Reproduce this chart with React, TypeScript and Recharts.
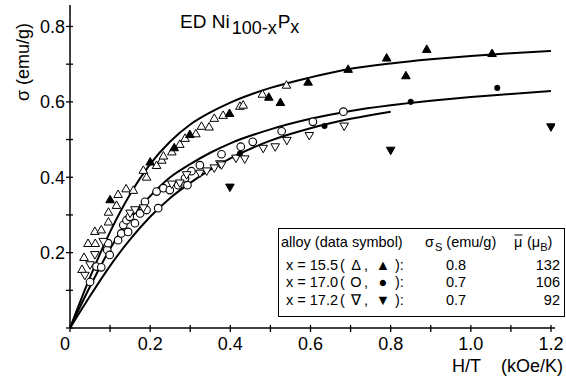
import React from 'react';
import { ComposedChart, Line, Scatter, XAxis, YAxis } from 'recharts';

// ---- axis ticks ----
const xTicks = [0, 0.1, 0.2, 0.3, 0.4, 0.5, 0.6, 0.7, 0.8, 0.9, 1.0, 1.1, 1.2];
const xLabelValues = [0, 0.2, 0.4, 0.6, 0.8, 1.0, 1.2];
const xLabelTexts = ['0', '0.2', '0.4', '0.6', '0.8', '1.0', '1.2'];
const yTicks = [0, 0.1, 0.2, 0.3, 0.4, 0.5, 0.6, 0.7, 0.8];
const yLabelValues = [0.2, 0.4, 0.6, 0.8];
const yLabelTexts = ['0.2', '0.4', '0.6', '0.8'];

// ---- fitted curves ----
const curveH = [0, 0.05, 0.1, 0.15, 0.2, 0.25, 0.3, 0.35, 0.4, 0.5, 0.6, 0.7, 0.8, 0.9, 1.0, 1.1, 1.2];
const curve155 = [0, 0.135, 0.255, 0.355, 0.435, 0.495, 0.54, 0.572, 0.598, 0.637, 0.665, 0.688, 0.702, 0.713, 0.722, 0.729, 0.735];
const curve170 = [0, 0.11, 0.21, 0.29, 0.35, 0.4, 0.435, 0.465, 0.49, 0.527, 0.555, 0.576, 0.591, 0.603, 0.613, 0.621, 0.629];
const curve172 = [0, 0.085, 0.165, 0.235, 0.295, 0.345, 0.385, 0.42, 0.45, 0.497, 0.53, 0.555, 0.574];

// ---- data points [H/T, sigma] ----
const open155: number[][] = [
  [0.03, 0.156], [0.035, 0.188], [0.045, 0.225], [0.063, 0.225], [0.062, 0.257], [0.078, 0.261],
  [0.096, 0.282], [0.096, 0.308], [0.116, 0.326], [0.12, 0.355], [0.14, 0.37], [0.158, 0.366],
  [0.183, 0.419], [0.191, 0.401], [0.216, 0.432], [0.229, 0.446], [0.233, 0.457], [0.254, 0.468],
  [0.274, 0.488], [0.287, 0.504], [0.314, 0.516], [0.328, 0.536], [0.347, 0.534], [0.36, 0.557],
  [0.382, 0.565], [0.424, 0.589], [0.432, 0.592], [0.48, 0.621], [0.54, 0.645],
];
const filled155: number[][] = [
  [0.1, 0.341], [0.2, 0.441], [0.26, 0.479], [0.299, 0.514], [0.398, 0.57], [0.496, 0.613],
  [0.525, 0.599], [0.594, 0.653], [0.694, 0.687], [0.79, 0.717], [0.838, 0.67], [0.89, 0.74], [1.053, 0.729],
];
const open170: number[][] = [
  [0.05, 0.122], [0.066, 0.163], [0.078, 0.161], [0.093, 0.207], [0.095, 0.225], [0.099, 0.194],
  [0.12, 0.233], [0.128, 0.251], [0.133, 0.273], [0.141, 0.286], [0.145, 0.255], [0.149, 0.295],
  [0.162, 0.278], [0.175, 0.304], [0.187, 0.335], [0.191, 0.313], [0.216, 0.362], [0.22, 0.318],
  [0.233, 0.371], [0.249, 0.366], [0.27, 0.379], [0.287, 0.397], [0.293, 0.379], [0.303, 0.416],
  [0.324, 0.432], [0.378, 0.461], [0.426, 0.481], [0.456, 0.494], [0.528, 0.522], [0.606, 0.547], [0.682, 0.574],
];
const filled170: number[][] = [[0.424, 0.463], [0.635, 0.536], [0.85, 0.6], [1.066, 0.637]];
const open172: number[][] = [
  [0.037, 0.139], [0.05, 0.167], [0.062, 0.194], [0.083, 0.229], [0.15, 0.304], [0.162, 0.313],
  [0.183, 0.318], [0.254, 0.381], [0.274, 0.384], [0.291, 0.406], [0.324, 0.41], [0.341, 0.416],
  [0.36, 0.424], [0.374, 0.435], [0.378, 0.432], [0.414, 0.45], [0.436, 0.448], [0.482, 0.476],
  [0.512, 0.48], [0.541, 0.497], [0.597, 0.51], [0.684, 0.535],
];
const filled172: number[][] = [[0.399, 0.373], [0.8, 0.471], [1.2, 0.533]];

// ---- legend table ----
const legendHeader = ['alloy (data symbol)', 'σ', '(emu/g)', 'μ', '(μ', ')'];
const legendAlloys = ['x = 15.5', 'x = 17.0', 'x = 17.2'];
const legendOpenSym = ['Δ', 'O', '∇'];
const legendFilledSym = ['▲', '●', '▼'];
const legendSigmaS = ['0.8', '0.7', '0.7'];
const legendMu = ['132', '106', '92'];

const toPts = (arr: number[][]) => arr.map(([h, s]) => ({ h, s }));
const toCurve = (vals: number[]) => vals.map((s, i) => ({ h: curveH[i], s }));

const W = 566;
const H = 379;
const AXIS_X = 70;
const AXIS_Y = 328;
const FONT = '"Liberation Sans", Arial, sans-serif';

const triUp = (fill: string) => (p: any) => {
  const { cx, cy } = p;
  return (
    <polygon
      points={`${cx},${cy - 4.2} ${cx - 4.3},${cy + 3.3} ${cx + 4.3},${cy + 3.3}`}
      fill={fill}
      stroke="#000"
      strokeWidth={1}
    />
  );
};
const triDown = (fill: string) => (p: any) => {
  const { cx, cy } = p;
  return (
    <polygon
      points={`${cx},${cy + 4.2} ${cx - 4.3},${cy - 3.3} ${cx + 4.3},${cy - 3.3}`}
      fill={fill}
      stroke="#000"
      strokeWidth={1}
    />
  );
};
const circOpen = (p: any) => <circle cx={p.cx} cy={p.cy} r={3.8} fill="#fff" stroke="#000" strokeWidth={1.1} />;
const circFilled = (p: any) => <circle cx={p.cx} cy={p.cy} r={2.8} fill="#000" stroke="#000" strokeWidth={0.5} />;

const XTick = (props: any) => {
  const { payload } = props;
  const x = payload.coordinate;
  const idx = xLabelValues.findIndex((v) => Math.abs(v - payload.value) < 1e-6);
  return (
    <g>
      <line x1={x} x2={x} y1={AXIS_Y - 3} y2={AXIS_Y + 4} stroke="#000" strokeWidth={1.3} />
      {idx >= 0 && (
        <text
          x={idx === 0 ? x - 5 : x}
          y={350}
          textAnchor="middle"
          fontFamily={FONT}
          fontSize={18}
          fill="#000"
        >
          {xLabelTexts[idx]}
        </text>
      )}
    </g>
  );
};

const YTick = (props: any) => {
  const { payload } = props;
  const y = payload.coordinate;
  const idx = yLabelValues.findIndex((v) => Math.abs(v - payload.value) < 1e-6);
  return (
    <g>
      <line x1={AXIS_X - 4} x2={AXIS_X + 3} y1={y} y2={y} stroke="#000" strokeWidth={1.3} />
      {idx >= 0 && (
        <text x={65} y={y + 6.5} textAnchor="end" fontFamily={FONT} fontSize={18} fill="#000">
          {yLabelTexts[idx]}
        </text>
      )}
    </g>
  );
};

export default function App() {
  const rowY = [270, 287, 304.5];
  return (
    <div style={{ position: 'absolute', left: 0, top: 0, width: W, height: H, background: '#fff' }}>
      <ComposedChart
        width={W}
        height={H}
        margin={{ top: 5, right: 11, bottom: 0, left: 0 }}
        style={{ position: 'absolute', left: 0, top: 0 }}
      >
        <XAxis
          dataKey="h"
          type="number"
          domain={[0, 1.21]}
          ticks={xTicks}
          interval={0}
          height={51}
          axisLine={{ stroke: '#000', strokeWidth: 1.5 }}
          tickLine={false}
          tick={<XTick />}
          allowDataOverflow
        />
        <YAxis
          dataKey="s"
          type="number"
          domain={[0, 0.857]}
          ticks={yTicks}
          interval={0}
          width={70}
          axisLine={{ stroke: '#000', strokeWidth: 1.5 }}
          tickLine={false}
          tick={<YTick />}
          allowDataOverflow
        />
        <Line data={toCurve(curve155)} dataKey="s" type="monotone" stroke="#000" strokeWidth={2} dot={false} isAnimationActive={false} />
        <Line data={toCurve(curve170)} dataKey="s" type="monotone" stroke="#000" strokeWidth={2} dot={false} isAnimationActive={false} />
        <Line data={toCurve(curve172)} dataKey="s" type="monotone" stroke="#000" strokeWidth={2} dot={false} isAnimationActive={false} />
        <Scatter data={toPts(open155)} dataKey="s" shape={triUp('#fff')} isAnimationActive={false} />
        <Scatter data={toPts(open170)} dataKey="s" shape={circOpen} isAnimationActive={false} />
        <Scatter data={toPts(open172)} dataKey="s" shape={triDown('#fff')} isAnimationActive={false} />
        <Scatter data={toPts(filled155)} dataKey="s" shape={triUp('#000')} isAnimationActive={false} />
        <Scatter data={toPts(filled170)} dataKey="s" shape={circFilled} isAnimationActive={false} />
        <Scatter data={toPts(filled172)} dataKey="s" shape={triDown('#000')} isAnimationActive={false} />
      </ComposedChart>
      <svg width={W} height={H} style={{ position: 'absolute', left: 0, top: 0, pointerEvents: 'none' }}>
        {/* y axis title */}
        <text
          transform="translate(29,62) rotate(-90)"
          textAnchor="middle"
          fontFamily={FONT}
          fontSize={18}
          fill="#000"
        >
          σ (emu/g)
        </text>
        {/* x axis title */}
        <text x={452} y={372} fontFamily={FONT} fontSize={18} fill="#000">H/T</text>
        <text x={563} y={372} textAnchor="end" fontFamily={FONT} fontSize={18} fill="#000">(kOe/K)</text>
        {/* plot title */}
        <text x={180} y={28} fontFamily={FONT} fontSize={19} fill="#000">
          ED Ni
          <tspan dx={2} dy={6} fontSize={18}>100-x</tspan>
          <tspan dx={1} dy={-6} fontSize={19}>P</tspan>
          <tspan dy={5} fontSize={18}>x</tspan>
        </text>
        {/* legend table */}
        <rect x={278.5} y={228.5} width={286} height={88} fill="#fff" stroke="#000" strokeWidth={1} />
        <g fontFamily={FONT} fontSize={14.5} fill="#000">
          <text x={281} y={247}>{legendHeader[0]}</text>
          <text x={425} y={247}>
            {legendHeader[1]}
            <tspan fontSize={11} dy={4} dx={1}>S</tspan>
            <tspan dy={-4} dx={4}>{legendHeader[2]}</tspan>
          </text>
          <text x={514} y={247}>{legendHeader[3]}</text>
          <line x1={514.5} x2={522.5} y1={235} y2={235} stroke="#000" strokeWidth={1} />
          <text x={527} y={247}>
            {legendHeader[4]}
            <tspan fontSize={11} dy={4}>B</tspan>
            <tspan dy={-4}>{legendHeader[5]}</tspan>
          </text>
          {legendAlloys.map((a, i) => (
            <g key={a}>
              <text x={286} y={rowY[i]}>{a}</text>
              <text x={340} y={rowY[i]}>(</text>
              <text x={356} y={rowY[i]} textAnchor="middle">{legendOpenSym[i]}</text>
              <text x={364} y={rowY[i]}>,</text>
              <text x={383} y={rowY[i]} textAnchor="middle">{legendFilledSym[i]}</text>
              <text x={395} y={rowY[i]}>):</text>
              <text x={456} y={rowY[i]} textAnchor="middle">{legendSigmaS[i]}</text>
              <text x={560} y={rowY[i]} textAnchor="end">{legendMu[i]}</text>
            </g>
          ))}
        </g>
      </svg>
    </div>
  );
}
